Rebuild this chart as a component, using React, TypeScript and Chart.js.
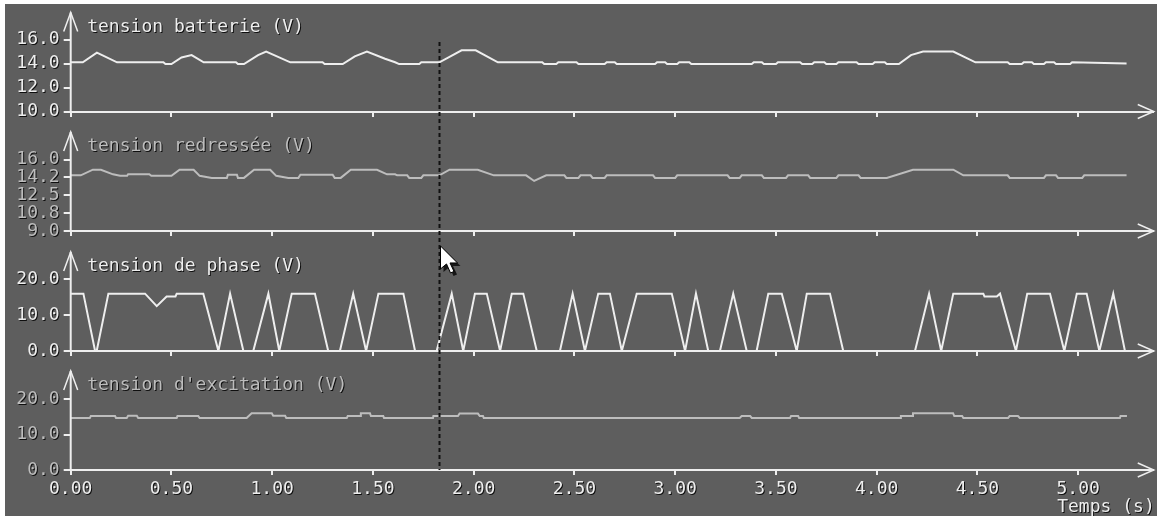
import React, { useEffect, useRef } from 'react';
import { Chart, registerables } from 'chart.js';

Chart.register(...registerables);

// ---------------- data ----------------
const X_TICKS = [0, 0.5, 1, 1.5, 2, 2.5, 3, 3.5, 4, 4.5, 5];
const X_TICK_LABELS = ['0.00', '0.50', '1.00', '1.50', '2.00', '2.50', '3.00', '3.50', '4.00', '4.50', '5.00'];
const X_TITLE = 'Temps (s)';

const TITLES = ['tension batterie (V)', 'tension redressée (V)', 'tension de phase (V)', "tension d'excitation (V)"];

const Y1_TICKS = [10, 12, 14, 16];
const Y1_TICK_LABELS = ['10.0', '12.0', '14.0', '16.0'];
const Y2_TICKS = [9, 10.75, 12.5, 14.25, 16];
const Y2_TICK_LABELS = ['9.0', '10.8', '12.5', '14.2', '16.0'];
const Y3_TICKS = [0, 10, 20];
const Y3_TICK_LABELS = ['0.0', '10.0', '20.0'];
const Y4_TICKS = [0, 10, 20];
const Y4_TICK_LABELS = ['0.0', '10.0', '20.0'];

const CURSOR_T = 1.83;

const BATT_T = [0.00, 0.06, 0.13, 0.23, 0.46, 0.47, 0.50, 0.55, 0.60, 0.66, 0.82, 0.83, 0.86, 0.93, 0.97, 1.09, 1.25, 1.26, 1.35, 1.41, 1.47, 1.56, 1.61, 1.63, 1.73, 1.74, 1.83, 1.94, 2.01, 2.12, 2.34, 2.35, 2.41, 2.42, 2.51, 2.52, 2.65, 2.66, 2.70, 2.71, 2.90, 2.91, 2.95, 2.96, 3.01, 3.02, 3.07, 3.08, 3.38, 3.39, 3.43, 3.44, 3.50, 3.51, 3.62, 3.63, 3.68, 3.69, 3.74, 3.75, 3.80, 3.81, 3.90, 3.91, 3.98, 3.99, 4.04, 4.05, 4.11, 4.17, 4.23, 4.38, 4.49, 4.65, 4.66, 4.72, 4.73, 4.77, 4.78, 4.83, 4.84, 4.88, 4.89, 4.96, 4.97, 5.24];
const BATT_V = [14.1, 14.1, 14.9, 14.1, 14.1, 13.95, 13.95, 14.5, 14.7, 14.1, 14.1, 13.95, 13.95, 14.7, 15.0, 14.1, 14.1, 13.95, 13.95, 14.6, 15.0, 14.4, 14.1, 13.95, 13.95, 14.1, 14.1, 15.1, 15.1, 14.1, 14.1, 13.95, 13.95, 14.1, 14.1, 13.95, 13.95, 14.1, 14.1, 13.95, 13.95, 14.1, 14.1, 13.95, 13.95, 14.1, 14.1, 13.95, 13.95, 14.1, 14.1, 13.95, 13.95, 14.1, 14.1, 13.95, 13.95, 14.1, 14.1, 13.95, 13.95, 14.1, 14.1, 13.95, 13.95, 14.1, 14.1, 13.95, 13.95, 14.7, 15.0, 15.0, 14.1, 14.1, 13.95, 13.95, 14.1, 14.1, 13.95, 13.95, 14.1, 14.1, 13.95, 13.95, 14.1, 14.0];

const REDR_T = [0.00, 0.05, 0.11, 0.15, 0.21, 0.245, 0.28, 0.285, 0.39, 0.40, 0.50, 0.54, 0.61, 0.64, 0.70, 0.775, 0.78, 0.825, 0.83, 0.86, 0.91, 0.99, 1.02, 1.08, 1.13, 1.14, 1.30, 1.31, 1.34, 1.39, 1.52, 1.57, 1.61, 1.62, 1.67, 1.68, 1.74, 1.75, 1.83, 1.88, 2.02, 2.10, 2.26, 2.30, 2.36, 2.45, 2.46, 2.52, 2.53, 2.58, 2.59, 2.65, 2.66, 2.89, 2.90, 3.00, 3.01, 3.26, 3.27, 3.32, 3.33, 3.43, 3.44, 3.55, 3.56, 3.66, 3.67, 3.80, 3.81, 3.91, 3.92, 4.05, 4.18, 4.38, 4.43, 4.65, 4.66, 4.83, 4.84, 4.89, 4.90, 5.02, 5.03, 5.24];
const REDR_V = [14.45, 14.45, 15.0, 15.0, 14.55, 14.4, 14.4, 14.55, 14.55, 14.4, 14.4, 15.0, 15.0, 14.4, 14.2, 14.2, 14.5, 14.5, 14.2, 14.2, 15.0, 15.0, 14.4, 14.2, 14.2, 14.5, 14.5, 14.2, 14.2, 15.0, 15.0, 14.55, 14.55, 14.45, 14.45, 14.2, 14.2, 14.45, 14.45, 15.0, 15.0, 14.45, 14.45, 13.9, 14.45, 14.45, 14.2, 14.2, 14.45, 14.45, 14.2, 14.2, 14.45, 14.45, 14.2, 14.2, 14.45, 14.45, 14.2, 14.2, 14.45, 14.45, 14.2, 14.2, 14.45, 14.45, 14.2, 14.2, 14.45, 14.45, 14.2, 14.2, 15.0, 15.0, 14.45, 14.45, 14.2, 14.2, 14.45, 14.45, 14.2, 14.2, 14.45, 14.45];

const PHASE_T = [0.00, 0.063, 0.121, 0.129, 0.187, 0.369, 0.427, 0.476, 0.52, 0.526, 0.658, 0.733, 0.791, 0.857, 0.906, 0.981, 1.035, 1.097, 1.212, 1.278, 1.336, 1.402, 1.466, 1.527, 1.651, 1.709, 1.816, 1.891, 1.948, 2.006, 2.065, 2.131, 2.189, 2.246, 2.313, 2.428, 2.491, 2.552, 2.618, 2.676, 2.735, 2.809, 2.983, 3.049, 3.103, 3.164, 3.222, 3.288, 3.355, 3.404, 3.462, 3.529, 3.603, 3.653, 3.768, 3.834, 4.19, 4.26, 4.32, 4.38, 4.529, 4.535, 4.596, 4.612, 4.691, 4.747, 4.86, 4.931, 4.993, 5.042, 5.105, 5.174, 5.232];
const PHASE_V = [16, 16, 0, 0, 16, 16, 12.5, 15.2, 15.2, 16, 16, 0, 16, 0, 0, 16, 0, 16, 16, 0, 0, 16, 0, 16, 16, 0, 0, 16, 0, 16, 16, 0, 16, 16, 0, 0, 16, 0, 16, 16, 0, 16, 16, 0, 16, 0, 0, 16, 0, 0, 16, 16, 0, 16, 16, 0, 0, 16, 0, 16, 16, 15.2, 15.2, 16, 0, 16, 16, 0, 16, 16, 0, 16, 0];

const EXC_T = [0.00, 0.095, 0.10, 0.22, 0.225, 0.278, 0.285, 0.328, 0.335, 0.526, 0.53, 0.633, 0.64, 0.873, 0.898, 0.998, 1.005, 1.064, 1.07, 1.37, 1.375, 1.436, 1.44, 1.485, 1.49, 1.551, 1.555, 1.798, 1.80, 1.922, 1.93, 2.021, 2.03, 2.046, 2.05, 3.32, 3.33, 3.372, 3.38, 3.57, 3.575, 3.61, 3.615, 4.116, 4.12, 4.176, 4.18, 4.379, 4.385, 4.424, 4.43, 4.652, 4.66, 4.701, 4.71, 5.207, 5.21, 5.242];
const EXC_V = [14.65, 14.65, 15.2, 15.2, 14.65, 14.65, 15.3, 15.3, 14.65, 14.65, 15.2, 15.2, 14.65, 14.65, 16.0, 16.0, 15.3, 15.3, 14.65, 14.65, 15.2, 15.2, 16.0, 16.0, 15.2, 15.2, 14.65, 14.65, 15.2, 15.2, 15.9, 15.9, 15.2, 15.2, 14.65, 14.65, 15.2, 15.2, 14.65, 14.65, 15.2, 15.2, 14.65, 14.65, 15.2, 15.2, 16.0, 16.0, 15.2, 15.2, 14.65, 14.65, 15.2, 15.2, 14.65, 14.65, 15.2, 15.2];

// ---------------- layout / style ----------------
const W = 1152;
const H = 512;
const BG = '#5e5e5e';
const BRIGHT = '#eeeeee';
const DIM = '#bdbdbd';
const SHADOW = 'rgba(0,0,0,0.85)';
const FAMILY = "'DejaVu Sans Mono', monospace";
const FSIZE = 18;

const AREA_LEFT = 65.7;
const PX_PER_S = 201.5;
const X_MAX = 5.37;
const AREA_TOP = 16;
const BASE = [107.5, 227, 347, 466];
const PX_PER_UNIT = [12, 10.214, 3.585, 3.55];
const Y_MIN = [10, 9, 0, 0];
const Y_AXIS_LEN = 99;
const PANEL_COLORS = [BRIGHT, DIM, BRIGHT, DIM];

const HEIGHTS = BASE.map((b, i) => b - (i === 0 ? AREA_TOP : BASE[i - 1]));
const Y_MAX = Y_MIN.map((m, i) => m + HEIGHTS[i] / PX_PER_UNIT[i]);
const Y_TICKS = [Y1_TICKS, Y2_TICKS, Y3_TICKS, Y4_TICKS];
const Y_LABELS = [Y1_TICK_LABELS, Y2_TICK_LABELS, Y3_TICK_LABELS, Y4_TICK_LABELS];

const toPoints = (ts: number[], vs: number[]) => ts.map((t, i) => ({ x: t, y: vs[i] }));

function yScale(i: number) {
  return {
    type: 'linear',
    axis: 'y',
    position: 'left',
    stack: 'panels',
    stackWeight: HEIGHTS[i],
    weight: 4 - i,
    min: Y_MIN[i],
    max: Y_MAX[i],
    afterFit: (s: any) => { s.width = AREA_LEFT; },
    afterBuildTicks: (s: any) => { s.ticks = Y_TICKS[i].map((v) => ({ value: v })); },
    grid: { drawOnChartArea: false, drawTicks: true, tickLength: 7, color: BRIGHT, lineWidth: 2 },
    border: { display: false },
    ticks: {
      autoSkip: false,
      padding: 4,
      z: 1,
      color: PANEL_COLORS[i],
      font: { family: FAMILY, size: FSIZE },
      callback: (v: number) => Y_LABELS[i][Y_TICKS[i].indexOf(v)] ?? '',
    },
  };
}

function xScale(posAxis: string, posValue: number, showLabels: boolean) {
  return {
    type: 'linear',
    axis: 'x',
    position: { [posAxis]: posValue },
    min: 0,
    max: X_MAX,
    afterBuildTicks: (s: any) => { s.ticks = X_TICKS.map((v) => ({ value: v })); },
    grid: { drawOnChartArea: false, drawTicks: true, tickLength: 4, color: BRIGHT, lineWidth: 2 },
    border: { display: true, color: BRIGHT, width: 2 },
    ticks: {
      display: showLabels,
      autoSkip: false,
      maxRotation: 0,
      padding: 5,
      z: 1,
      color: BRIGHT,
      font: { family: FAMILY, size: FSIZE },
      callback: (v: number) => X_TICK_LABELS[X_TICKS.indexOf(v)] ?? '',
    },
  };
}

const overlay = {
  id: 'overlay',
  afterDatasetsDraw(chart: any) {
    const ctx = chart.ctx;
    ctx.shadowColor = SHADOW;
    ctx.shadowOffsetX = 1;
    ctx.shadowOffsetY = 1;
    ctx.shadowBlur = 0;
  },
  afterDraw(chart: any) {
    const ctx = chart.ctx as CanvasRenderingContext2D;
    const area = chart.chartArea;
    const xs = chart.scales.x;
    const x0 = xs.getPixelForValue(0);
    ctx.save();
    ctx.shadowColor = 'rgba(0,0,0,0)';
    ctx.shadowOffsetX = 0;
    ctx.shadowOffsetY = 0;
    ctx.lineCap = 'butt';
    for (let i = 0; i < 4; i++) {
      const ys = chart.scales['y' + (i + 1)];
      const base = ys.getPixelForValue(Y_MIN[i]);
      const top = base - Y_AXIS_LEN;
      ctx.strokeStyle = BRIGHT;
      ctx.lineWidth = 2;
      ctx.beginPath();
      ctx.moveTo(x0, base);
      ctx.lineTo(x0, top);
      ctx.stroke();
      ctx.lineWidth = 1.5;
      ctx.beginPath();
      ctx.moveTo(x0 - 7, top + 19);
      ctx.lineTo(x0, top);
      ctx.lineTo(x0 + 7, top + 19);
      ctx.stroke();
      const r = area.right + 1;
      ctx.beginPath();
      ctx.moveTo(r - 16, base - 7);
      ctx.lineTo(r, base);
      ctx.lineTo(r - 16, base + 7);
      ctx.stroke();
    }
    // titles
    ctx.font = `${FSIZE}px ${FAMILY}`;
    ctx.textBaseline = 'alphabetic';
    ctx.textAlign = 'left';
    ctx.shadowColor = SHADOW;
    ctx.shadowOffsetX = 1;
    ctx.shadowOffsetY = 1;
    for (let i = 0; i < 4; i++) {
      const ys = chart.scales['y' + (i + 1)];
      const base = ys.getPixelForValue(Y_MIN[i]);
      ctx.fillStyle = PANEL_COLORS[i];
      ctx.fillText(TITLES[i], x0 + 16.5, base - 80);
    }
    ctx.fillStyle = BRIGHT;
    ctx.fillText(X_TITLE, xs.getPixelForValue(5) - 21, BASE[3] + 42);
    ctx.shadowColor = 'rgba(0,0,0,0)';
    ctx.shadowOffsetX = 0;
    ctx.shadowOffsetY = 0;

    // cursor dotted line
    const cx = Math.round(xs.getPixelForValue(CURSOR_T)) + 0.5;
    const y1 = chart.scales.y1;
    const y3 = chart.scales.y3;
    const y4 = chart.scales.y4;
    ctx.strokeStyle = '#111111';
    ctx.lineWidth = 2;
    ctx.setLineDash([4, 3]);
    ctx.beginPath();
    ctx.moveTo(cx, y1.getPixelForValue(15.8));
    ctx.lineTo(cx, y4.getPixelForValue(0));
    ctx.stroke();
    ctx.setLineDash([]);

    // mouse pointer
    const px = cx + 1;
    const py = y3.getPixelForValue(29.3);
    const pts = [[0, 0], [0, 23], [6, 18], [10, 27], [13.5, 25.5], [9.5, 17], [17, 17]];
    ctx.fillStyle = '#161616';
    ctx.beginPath();
    pts.forEach(([a, b], k) => (k ? ctx.lineTo(px + a + 3, py + b + 3) : ctx.moveTo(px + a + 3, py + b + 3)));
    ctx.closePath();
    ctx.fill();
    ctx.fillStyle = '#ffffff';
    ctx.strokeStyle = '#000000';
    ctx.lineWidth = 1;
    ctx.beginPath();
    pts.forEach(([a, b], k) => (k ? ctx.lineTo(px + a, py + b) : ctx.moveTo(px + a, py + b)));
    ctx.closePath();
    ctx.fill();
    ctx.stroke();
    ctx.restore();
  },
};

export default function App() {
  const ref = useRef<HTMLCanvasElement>(null);
  useEffect(() => {
    if (!ref.current) return;
    const line = (ts: number[], vs: number[], yId: string, color: string) => ({
      data: toPoints(ts, vs),
      xAxisID: 'x',
      yAxisID: yId,
      borderColor: color,
      borderWidth: 2,
      pointRadius: 0,
      tension: 0,
      fill: false,
    });
    const chart = new Chart(ref.current, {
      type: 'line',
      data: {
        datasets: [
          line(BATT_T, BATT_V, 'y1', BRIGHT),
          line(REDR_T, REDR_V, 'y2', DIM),
          line(PHASE_T, PHASE_V, 'y3', BRIGHT),
          line(EXC_T, EXC_V, 'y4', DIM),
        ] as any,
      },
      options: {
        responsive: false,
        animation: false,
        devicePixelRatio: 1,
        events: [],
        layout: {
          padding: {
            left: 0,
            top: AREA_TOP,
            right: W - AREA_LEFT - X_MAX * PX_PER_S,
            bottom: H - BASE[3],
          },
        },
        plugins: { legend: { display: false }, tooltip: { enabled: false } },
        scales: {
          y1: yScale(0),
          y2: yScale(1),
          y3: yScale(2),
          y4: yScale(3),
          x: xScale('y4', 0, true),
          xa: xScale('y1', Y_MIN[0], false),
          xb: xScale('y2', Y_MIN[1], false),
          xc: xScale('y3', Y_MIN[2], false),
        } as any,
      },
      plugins: [overlay],
    });
    return () => chart.destroy();
  }, []);

  return (
    <div style={{ position: 'fixed', left: 0, top: 0, width: 1157, height: 516, background: '#ffffff', overflow: 'hidden' }}>
      <div style={{ position: 'absolute', left: 5, top: 4, width: W, height: H, background: BG }}>
        <canvas ref={ref} width={W} height={H} style={{ display: 'block', width: W, height: H }} />
      </div>
    </div>
  );
}
